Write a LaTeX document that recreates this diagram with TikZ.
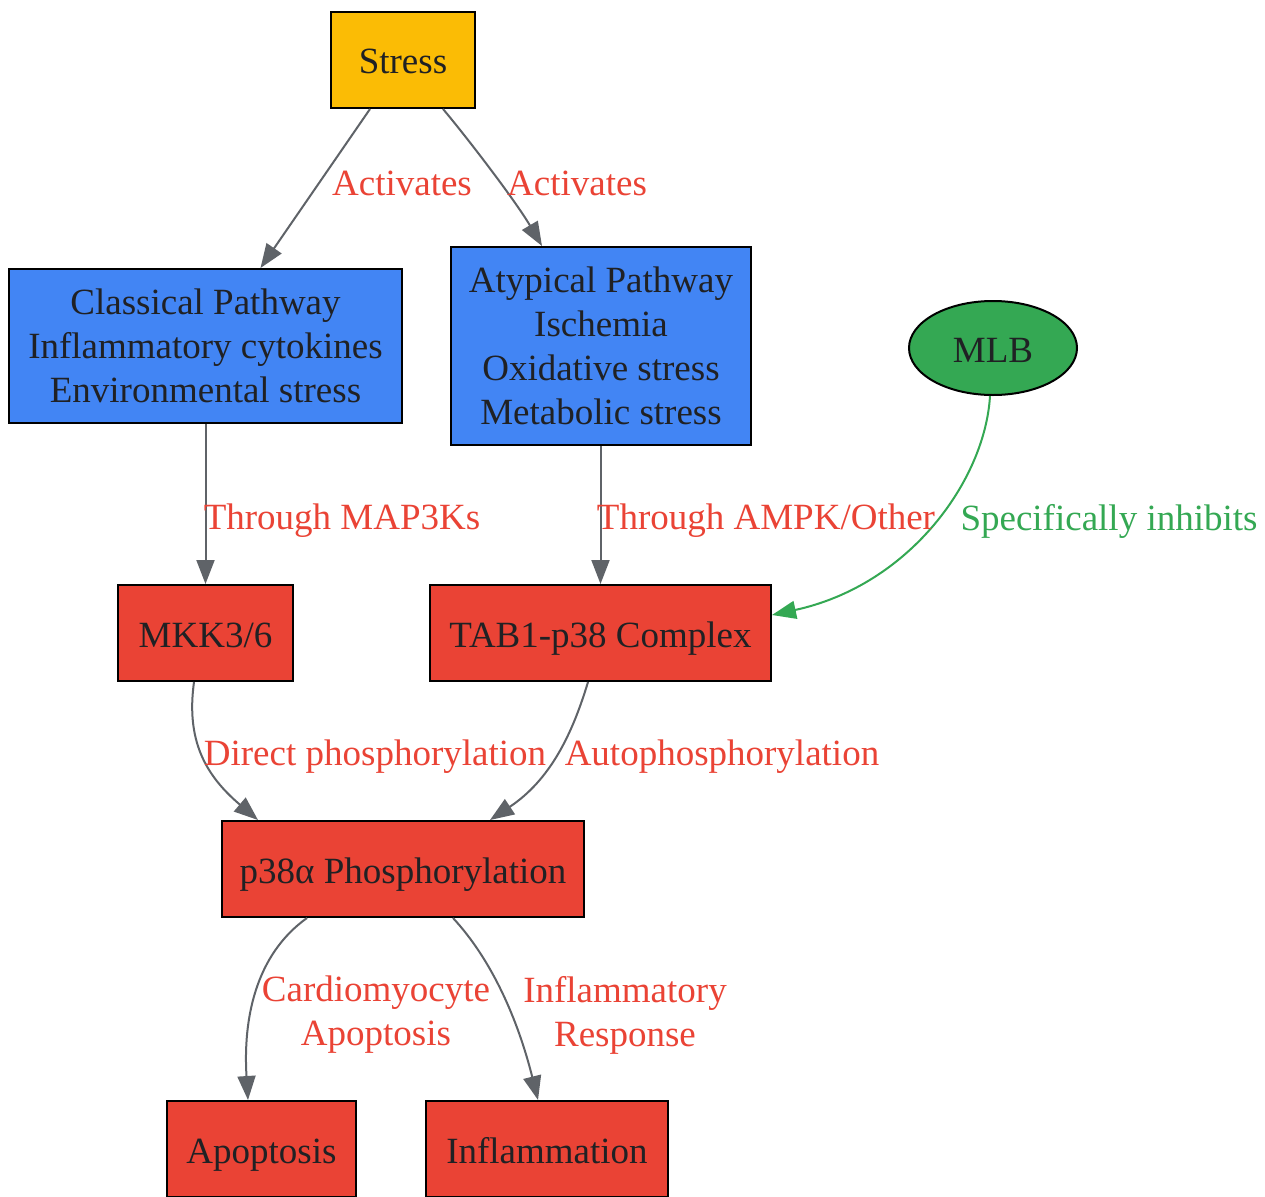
\documentclass[tikz,border=0pt]{standalone}
\usepackage{fontspec}
\setmainfont{Liberation Serif}
\usetikzlibrary{shapes.geometric,arrows.meta}
\definecolor{gyellow}{HTML}{FBBC05}
\definecolor{gblue}{HTML}{4285F4}
\definecolor{gred}{HTML}{EA4335}
\definecolor{ggreen}{HTML}{34A853}
\definecolor{ggray}{HTML}{5F6368}
\definecolor{gtext}{HTML}{202124}
\tikzset{
  box/.style={draw=black, line width=2pt, rectangle, inner sep=0pt, align=center, text=gtext,
    font=\fontsize{37}{44}\selectfont},
  one/.style={text height=30pt, text depth=2pt},
  multi/.style={inner ysep=0pt, yshift=-2pt},
  edge/.style={draw=ggray, line width=2pt, -{Triangle[length=24pt,width=18pt]}},
  inhib/.style={draw=ggreen, line width=2pt, -{Triangle[length=24pt,width=18pt]}},
  elab/.style={text=gred, inner sep=0pt, align=center, font=\fontsize{37}{44}\selectfont},
  glab/.style={text=ggreen, inner sep=0pt, align=center, font=\fontsize{37}{44}\selectfont},
}
\begin{document}
\begin{tikzpicture}[x=1pt,y=-1pt]
\useasboundingbox[fill=white] (0,0) rectangle (1265,1196);
% nodes
\node[box, one, fill=gyellow, minimum width=144pt, minimum height=96pt] (stress) at (403,60) {Stress};
\node[box, fill=gblue, minimum width=393pt, minimum height=154pt] (classical) at (205.5,346) {\raisebox{-2pt}{\parbox{380pt}{\centering Classical Pathway\\Inflammatory cytokines\\Environmental stress}}};
\node[box, fill=gblue, minimum width=300pt, minimum height=198pt] (atypical) at (601,346) {\raisebox{-2pt}{\parbox{290pt}{\centering Atypical Pathway\\Ischemia\\Oxidative stress\\Metabolic stress}}};
\node[box, one, ellipse, fill=ggreen, minimum width=168pt, minimum height=94pt] (mlb) at (993,348) {MLB};
\node[box, one, fill=gred, minimum width=175pt, minimum height=96pt] (mkk) at (205.5,633) {MKK3/6};
\node[box, one, fill=gred, minimum width=341pt, minimum height=96pt] (tab) at (600.5,633) {TAB1-p38 Complex};
\node[box, one, fill=gred, minimum width=362pt, minimum height=96pt] (p38) at (403,869) {p38α Phosphorylation};
\node[box, one, fill=gred, minimum width=189pt, minimum height=96pt] (apop) at (261.5,1149) {Apoptosis};
\node[box, one, fill=gred, minimum width=242pt, minimum height=96pt] (inflam) at (547,1149) {Inflammation};
% edges
\draw[edge] ([xshift=-33pt]stress.south) -- ([xshift=55pt]classical.north);
\draw[edge] ([xshift=40pt]stress.south) .. controls (465,135) and (515,200) .. ([xshift=-59pt]atypical.north);
\draw[edge] (classical.south) -- (mkk.north);
\draw[edge] ([xshift=-0.5pt]atypical.south) -- (tab.north);
\draw[inhib] ([xshift=-3pt]mlb.south) .. controls (985,480) and (910,585) .. ([yshift=18pt]tab.east);
\draw[edge] ([xshift=-11.5pt]mkk.south) .. controls (186,740) and (205,775) .. ([xshift=-145pt]p38.north);
\draw[edge] ([xshift=-12.5pt]tab.south) .. controls (572,735) and (550,780) .. ([xshift=87pt]p38.north);
\draw[edge] ([xshift=-96pt]p38.south) .. controls (255,955) and (243,1020) .. ([xshift=-13.5pt]apop.north);
\draw[edge] ([xshift=50pt]p38.south) .. controls (492,960) and (518,1020) .. ([xshift=-9pt]inflam.north);
% labels
\node[elab] (l1) at (402,183) {Activates};
\node[elab] (l2) at (577,183) {Activates};
\node[elab] (l3) at (342,521) {Through MAP3Ks};
\node[elab] (l4) at (766,521) {Through AMPK/Other};
\node[glab] (l5) at (1109,521) {Specifically inhibits};
\node[elab] (l6) at (375,757) {Direct phosphorylation};
\node[elab] (l7) at (722,757) {Autophosphorylation};
\node[elab] (l8) at (376,1015) {Cardiomyocyte\\Apoptosis};
\node[elab] (l9) at (625,1015) {Inflammatory\\Response};
\end{tikzpicture}
\end{document}
